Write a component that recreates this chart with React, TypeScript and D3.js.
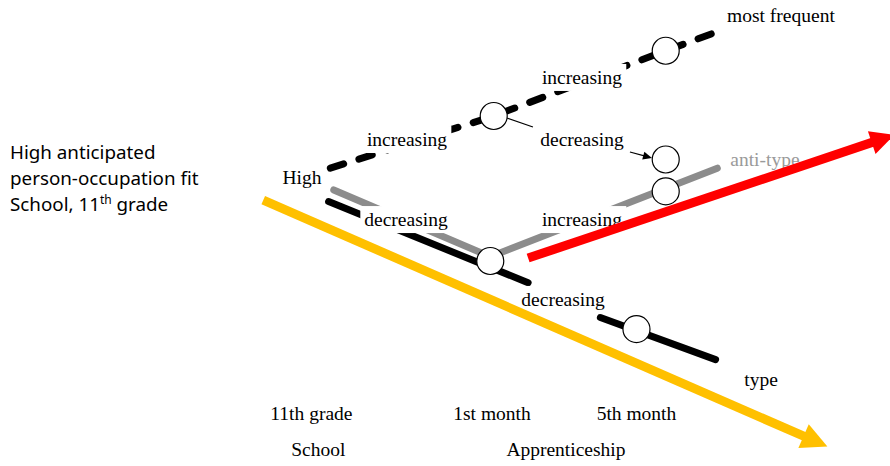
import React, { useEffect, useRef } from 'react';
import * as d3 from 'd3';

// time position (t) and fit level (v) in diagram units
type Pt = [number, number];

const stages = ['11th grade', '1st month', '5th month'];
const stagePos = [-0.05, 1, 1.84];
const phases = ['School', 'Apprenticeship'];
const phasePos = [-0.01, 1.43];

const titleLines = ['High anticipated', 'person-occupation fit', 'School, 11'];

const mostFrequentPath: Pt[] = [[0.06, 0.64], [1.01, 1], [2.01, 1.45], [2.33, 1.59]];
const antiTypePath: Pt[] = [[0.08, 0.49], [0.99, 0.03], [2.31, 0.64]];
const typePathA: Pt[] = [[0.05, 0.41], [1.21, -0.15]];
const typePathB: Pt[] = [[1.63, -0.39], [2.3, -0.68]];
const overallArrow: Pt[] = [[-0.33, 0.42], [2.95, -1.28]];
const antiArrow: Pt[] = [[1.21, 0.02], [3.34, 0.87]];

const nodes: Pt[] = [[1.01, 1], [2.01, 1.45], [2.01, 0.7], [2.01, 0.48], [0.99, 0], [1.84, -0.47]];
const connector: Pt[] = [[1.087, 0.986], [1.238, 0.924]];
const pointer: Pt[] = [[1.802, 0.752], [1.93, 0.71]];

const labels = ['most frequent', 'increasing', 'increasing', 'decreasing', 'High', 'anti-type', 'decreasing', 'increasing', 'decreasing', 'type'];
const labelPos: Pt[] = [[2.68, 1.648], [1.523, 1.221], [0.506, 0.793], [1.523, 0.793], [-0.105, 0.531], [2.587, 0.655], [0.5, 0.241], [1.523, 0.241], [1.413, -0.31], [2.564, -0.862]];
const labelMasked = [true, true, true, true, false, false, true, true, true, false];
const labelGrey = [false, false, false, false, false, true, false, false, false, false];

const W = 890;
const H = 466;
const serif = '"Liberation Serif", "Times New Roman", serif';
const sans = '"Noto Sans", sans-serif';
const fs = 19.5;

const App = (): React.ReactElement => {
  const ref = useRef<SVGSVGElement>(null);

  useEffect(() => {
    if (!ref.current) return;
    const svg = d3.select(ref.current);
    svg.selectAll('*').remove();

    const x = d3.scaleLinear().domain([0, 1]).range([320, 492]);
    const y = d3.scaleLinear().domain([0, 1]).range([261, 116]);
    const line = d3.line<Pt>().x((d) => x(d[0])).y((d) => y(d[1]));

    const arrow = (pts: Pt[], color: string, width: number, headLen: number, headHalf: number) => {
      const [x0, y0] = [x(pts[0][0]), y(pts[0][1])];
      const [x1, y1] = [x(pts[1][0]), y(pts[1][1])];
      const len = Math.hypot(x1 - x0, y1 - y0);
      const ux = (x1 - x0) / len;
      const uy = (y1 - y0) / len;
      const bx = x1 - ux * headLen;
      const by = y1 - uy * headLen;
      svg
        .append('line')
        .attr('x1', x0)
        .attr('y1', y0)
        .attr('x2', bx + ux * 2)
        .attr('y2', by + uy * 2)
        .attr('stroke', color)
        .attr('stroke-width', width);
      svg
        .append('polygon')
        .attr('points', [[x1, y1], [bx - uy * headHalf, by + ux * headHalf], [bx + uy * headHalf, by - ux * headHalf]].map((p) => p.join(',')).join(' '))
        .attr('fill', color);
    };

    // pathways
    svg
      .append('path')
      .attr('d', line(mostFrequentPath))
      .attr('fill', 'none')
      .attr('stroke', '#000')
      .attr('stroke-width', 7)
      .attr('stroke-linecap', 'round')
      .attr('stroke-dasharray', '14 16');
    svg
      .append('path')
      .attr('d', line(antiTypePath))
      .attr('fill', 'none')
      .attr('stroke', '#8c8c8c')
      .attr('stroke-width', 7)
      .attr('stroke-linecap', 'round');
    [typePathA, typePathB].forEach((p) => {
      svg
        .append('path')
        .attr('d', line(p))
        .attr('fill', 'none')
        .attr('stroke', '#000')
        .attr('stroke-width', 7)
        .attr('stroke-linecap', 'round');
    });

    svg
      .append('path')
      .attr('d', line(connector))
      .attr('stroke', '#000')
      .attr('stroke-width', 1.2);
    arrow(pointer, '#000', 1.2, 9, 4);

    // labels on the pathways
    labels.forEach((txt, i) => {
      const g = svg.append('g');
      const t = g
        .append('text')
        .attr('x', x(labelPos[i][0]))
        .attr('y', y(labelPos[i][1]))
        .attr('text-anchor', 'middle')
        .attr('font-family', serif)
        .attr('font-size', fs)
        .attr('fill', labelGrey[i] ? '#9a9a9a' : '#000')
        .text(txt);
      if (labelMasked[i]) {
        const bb = (t.node() as SVGTextElement).getBBox();
        g.insert('rect', 'text')
          .attr('x', bb.x - 4)
          .attr('y', bb.y - 3)
          .attr('width', bb.width + 8)
          .attr('height', bb.height + 6)
          .attr('fill', '#fff');
      }
    });

    // long yellow arrow
    arrow(overallArrow, '#FFC000', 9, 26, 13);

    // nodes
    svg
      .append('g')
      .selectAll('circle')
      .data(nodes)
      .join('circle')
      .attr('cx', (d) => x(d[0]))
      .attr('cy', (d) => y(d[1]))
      .attr('r', 13.5)
      .attr('fill', '#fff')
      .attr('stroke', '#000')
      .attr('stroke-width', 1.2);

    // red anti-type arrow on top
    arrow(antiArrow, '#FF0000', 9, 24, 12);

    // time axis labels
    svg
      .append('g')
      .selectAll('text')
      .data(stages)
      .join('text')
      .attr('x', (_, i) => x(stagePos[i]))
      .attr('y', 420)
      .attr('text-anchor', 'middle')
      .attr('font-family', serif)
      .attr('font-size', fs)
      .text((d) => d);
    svg
      .append('g')
      .selectAll('text')
      .data(phases)
      .join('text')
      .attr('x', (_, i) => x(phasePos[i]))
      .attr('y', 456)
      .attr('text-anchor', 'middle')
      .attr('font-family', serif)
      .attr('font-size', fs)
      .text((d) => d);

    // left caption
    const cap = svg.append('g').attr('font-family', sans).attr('font-size', 18.8).attr('fill', '#000');
    titleLines.forEach((l, i) => {
      const t = cap.append('text').attr('x', 10).attr('y', 159 + i * 25.8).text(l);
      if (i === titleLines.length - 1) {
        t.append('tspan').attr('font-size', 12).attr('dy', -7).text('th');
        t.append('tspan').attr('dy', 7).text(' grade');
      }
    });
  }, []);

  return <svg ref={ref} width={W} height={H} style={{ position: 'absolute', left: 0, top: 0, background: '#fff' }} />;
};

export default App;
